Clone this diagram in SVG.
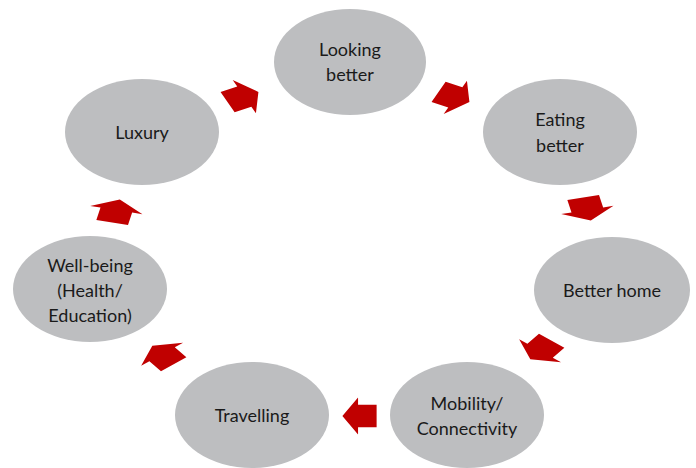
<svg xmlns="http://www.w3.org/2000/svg" width="696" height="468" viewBox="0 0 696 468">
  <style>
    .node { fill: #BDBEC0; }
    .lbl { font-family: Lato, "Open Sans", sans-serif; font-size: 18px; fill: #1a1a1a; text-anchor: middle; dominant-baseline: central; }
    .arrow { fill: #C00000; }
  </style>
  <defs>
    <!-- block arrow pointing right, centred on the origin -->
    <polygon id="blk" points="-11.8,-11.2 1,-11.2 1,-18.5 11.8,0 1,18.5 1,11.2 -11.8,11.2"/>
  </defs>
  <rect width="696" height="468" fill="#ffffff"/>

  <g id="connectors">
    <use href="#blk" class="arrow" transform="translate(243,97) scale(1.45,1) rotate(-25.7)"/>
    <use href="#blk" class="arrow" transform="translate(454,97) scale(1.45,1) rotate(25.7)"/>
    <use href="#blk" class="arrow" transform="translate(587,209) scale(1.45,1) rotate(77.1)"/>
    <use href="#blk" class="arrow" transform="translate(541,350) scale(1.45,1) rotate(128.6)"/>
    <use href="#blk" class="arrow" transform="translate(359.5,416) scale(1.45,1) rotate(180)"/>
    <use href="#blk" class="arrow" transform="translate(163,355) scale(1.45,1) rotate(231.4)"/>
    <use href="#blk" class="arrow" transform="translate(116,211) scale(1.45,1) rotate(282.9)"/>
  </g>

  <g id="looking-better">
    <ellipse class="node" cx="350" cy="62" rx="76" ry="53"/>
    <text class="lbl" x="350" y="49">Looking</text>
    <text class="lbl" x="350" y="74">better</text>
  </g>
  <g id="eating-better">
    <ellipse class="node" cx="560" cy="132" rx="77" ry="53"/>
    <text class="lbl" x="560" y="119">Eating</text>
    <text class="lbl" x="560" y="145">better</text>
  </g>
  <g id="better-home">
    <ellipse class="node" cx="612" cy="290" rx="78" ry="53"/>
    <text class="lbl" x="612" y="290">Better home</text>
  </g>
  <g id="mobility">
    <ellipse class="node" cx="467" cy="415" rx="77" ry="53"/>
    <text class="lbl" x="467" y="403">Mobility/</text>
    <text class="lbl" x="467" y="428">Connectivity</text>
  </g>
  <g id="travelling">
    <ellipse class="node" cx="252" cy="415" rx="77" ry="53"/>
    <text class="lbl" x="252" y="415">Travelling</text>
  </g>
  <g id="well-being">
    <ellipse class="node" cx="90" cy="289" rx="77" ry="53"/>
    <text class="lbl" x="90" y="265">Well-being</text>
    <text class="lbl" x="90" y="290">(Health/</text>
    <text class="lbl" x="90" y="315">Education)</text>
  </g>
  <g id="luxury">
    <ellipse class="node" cx="142" cy="132" rx="77" ry="53"/>
    <text class="lbl" x="142" y="132">Luxury</text>
  </g>
</svg>
